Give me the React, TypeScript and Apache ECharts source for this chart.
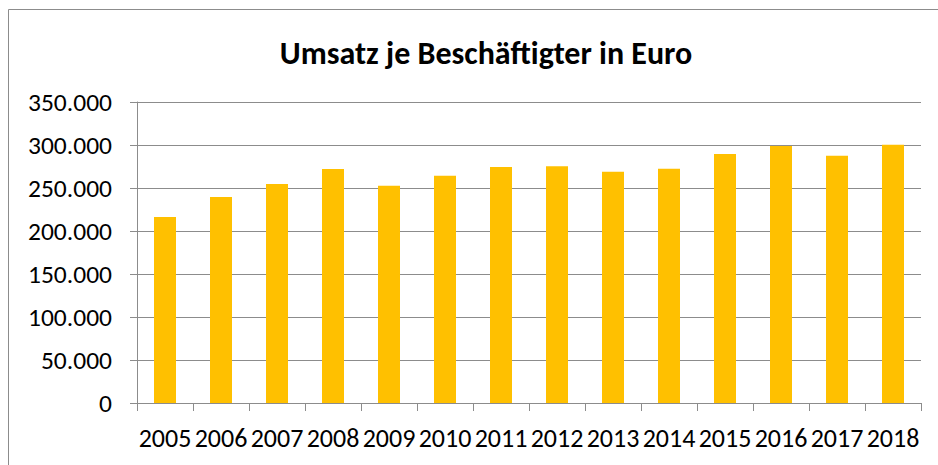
import React, { useEffect, useRef } from "react";
import * as echarts from "echarts";

const years = ["2005","2006","2007","2008","2009","2010","2011","2012","2013","2014","2015","2016","2017","2018"];
const umsatz = [216300, 239500, 254700, 272000, 252700, 264300, 274400, 275200, 269000, 272500, 289500, 298800, 287600, 300400];
const yTicks = { min: 0, max: 350000, interval: 50000 };
const title = "Umsatz je Beschäftigter in Euro";

const FONT = "Calibri, Carlito, Lato, 'Open Sans', sans-serif";

function fmt(v: number): string {
  return v.toString().replace(/\B(?=(\d{3})+(?!\d))/g, ".");
}

export default function App() {
  const ref = useRef<HTMLDivElement>(null);
  useEffect(() => {
    document.body.style.margin = "0";
    const chart = echarts.init(ref.current!, null, { renderer: "svg" });
    chart.setOption({
      animation: false,
      backgroundColor: "#ffffff",
      title: {
        text: title,
        left: 481,
        textAlign: "center",
        top: 32,
        textStyle: { fontFamily: FONT, fontWeight: "bold", fontSize: 32, color: "#000" },
      },
      graphic: [
        {
          type: "rect",
          shape: { x: 8.5, y: 9.5, width: 1000, height: 1000 },
          style: { fill: "none", stroke: "#8c8c8c", lineWidth: 1 },
          silent: true,
          z: -1,
        },
      ],
      grid: { left: 137, right: 17, top: 102, bottom: 62 },
      xAxis: {
        type: "category",
        data: years,
        axisLine: { lineStyle: { color: "#8c8c8c", width: 1 } },
        axisTick: { show: true, length: 8, lineStyle: { color: "#8c8c8c" } },
        axisLabel: { fontFamily: FONT, fontSize: 26, color: "#000", margin: 22, interval: 0 },
      },
      yAxis: {
        type: "value",
        min: yTicks.min,
        max: yTicks.max,
        interval: yTicks.interval,
        axisLine: { show: true, lineStyle: { color: "#8c8c8c", width: 1 } },
        axisTick: { show: true, length: 7, lineStyle: { color: "#8c8c8c" } },
        splitLine: { show: true, lineStyle: { color: "#8c8c8c", width: 1 } },
        axisLabel: {
          fontFamily: FONT,
          fontSize: 25.5,
          color: "#000",
          margin: 25,
          formatter: (v: number) => fmt(v),
        },
      },
      series: [
        {
          type: "bar",
          data: umsatz,
          barWidth: 22,
          itemStyle: { color: "#FFC000" },
        },
      ],
    });
    return () => chart.dispose();
  }, []);
  return <div ref={ref} style={{ width: 938, height: 465 }} />;
}
